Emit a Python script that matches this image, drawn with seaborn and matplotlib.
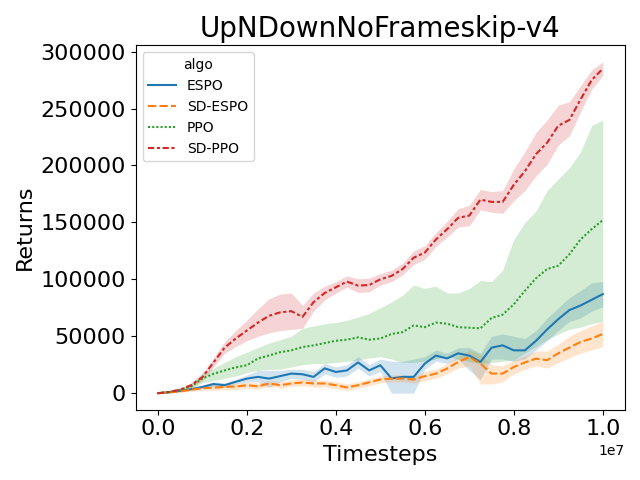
import numpy as np
import pandas as pd
import matplotlib
matplotlib.use('Agg')
import matplotlib.pyplot as plt
import seaborn as sns

# timesteps every 250k up to 10M
steps = np.linspace(0, 1e7, 41)
algos = ['ESPO', 'SD-ESPO', 'PPO', 'SD-PPO']

# mean returns
espo = [0, 800, 2000, 3500, 5500, 8000, 7000, 10000, 12800, 14300, 12800, 15000, 17200, 16600,
        14300, 21800, 18600, 20000, 27000, 20000, 24500, 13000, 14300, 14300, 26000, 33000, 30500,
        35000, 33000, 27400, 40000, 42000, 37600, 37600, 46000, 56000, 65000, 73000, 77000, 82000, 87000]
sd_espo = [0, 600, 1500, 3000, 4400, 4800, 5500, 5800, 7000, 6000, 8500, 7000, 8500, 9400,
           8500, 8500, 7000, 5000, 7000, 9500, 12000, 12800, 12800, 12000, 14900, 17200, 21600,
           27400, 31700, 26000, 17200, 17200, 23000, 27000, 30300, 29000, 35000, 40000, 45000, 48000, 52000]
ppo = [0, 1000, 3000, 6000, 12800, 17000, 20000, 22700, 24500, 30500, 33000, 36000, 37600, 40500,
       42000, 44000, 46000, 47000, 49000, 47000, 48000, 52000, 53600, 59500, 58000, 62000, 61000,
       58000, 57500, 57000, 66000, 69000, 78000, 90000, 101000, 109000, 112000, 122000, 135000, 144000, 152000]
sd_ppo = [0, 1000, 3000, 7000, 14000, 27000, 40000, 48000, 55000, 62000, 68000, 71000, 72000, 67000,
          80000, 88000, 93000, 98000, 94500, 95000, 100000, 103000, 109000, 119000, 123500, 135000, 144000,
          154000, 156000, 170000, 168000, 168000, 183000, 195000, 210000, 220000, 235000, 240000, 258000, 275000, 285000]

# confidence band edges
espo_lo = [0, 500, 1500, 2500, 4000, 6000, 5000, 8000, 10000, 10000, 5000, 10000, 13000, 12000,
           10000, 17000, 14000, 15000, 22000, 15000, 19000, 0, 0, 0, 21000, 28000, 26000,
           30000, 20000, 12000, 30000, 30000, 28000, 30000, 38000, 46000, 55000, 63000, 66000, 72000, 76000]
espo_hi = [0, 1200, 2500, 4500, 7000, 10000, 9000, 12000, 16000, 20000, 20000, 20000, 21000, 21000,
           19000, 26000, 23000, 25000, 32000, 25000, 30000, 28000, 28000, 30000, 32000, 38000, 35000,
           40000, 40000, 35000, 50000, 52000, 50000, 48000, 55000, 66000, 75000, 84000, 90000, 97000, 98000]
sd_espo_lo = [0, 300, 800, 1500, 2500, 2500, 3000, 3000, 4500, 3500, 6000, 4500, 6000, 6500,
              5500, 5500, 4000, 2500, 4500, 6500, 9000, 10000, 10000, 9000, 11000, 13000, 17000,
              22000, 24000, 8000, 8000, 10000, 17000, 21000, 24000, 22000, 27000, 31000, 35000, 38000, 41000]
sd_espo_hi = [0, 900, 2200, 4500, 6500, 7500, 8500, 8500, 10000, 9000, 11000, 10000, 11500, 12500,
              11500, 11500, 10000, 8000, 10000, 12500, 15000, 16000, 16000, 15000, 19000, 21000, 26000,
              32000, 38000, 34000, 25000, 24000, 29000, 33000, 37000, 37000, 43000, 50000, 55000, 59000, 63000]
ppo_lo = [0, 500, 2000, 4000, 9000, 11000, 13000, 15000, 18000, 20000, 21000, 21000, 23000, 25000,
          26000, 26000, 27000, 28000, 29000, 31000, 32000, 30000, 27000, 27000, 28000, 30000, 32000,
          30000, 28000, 26000, 27000, 28000, 29000, 35000, 41000, 47000, 52000, 56000, 58000, 61000, 63000]
ppo_hi = [0, 1500, 4000, 9000, 18000, 22000, 27000, 32000, 36000, 40000, 44000, 47000, 50000, 57000,
          59000, 61000, 62000, 64000, 67000, 70000, 75000, 80000, 86000, 95000, 92000, 94000, 88000,
          88000, 92000, 99000, 98000, 108000, 135000, 150000, 160000, 178000, 188000, 198000, 212000, 235000, 240000]
sd_ppo_lo = [0, 500, 2000, 5000, 11000, 23000, 35000, 41000, 46000, 50000, 53000, 55000, 56000, 57000,
             72000, 82000, 88000, 93000, 88500, 89000, 95000, 98000, 104000, 113000, 117500, 129000, 137000,
             146000, 147000, 161000, 159000, 158000, 169000, 178000, 191000, 201000, 218000, 226000, 247000, 267000, 279000]
sd_ppo_hi = [0, 1500, 4000, 9000, 17000, 31000, 45000, 55000, 64000, 74000, 83000, 87000, 88000, 77000,
             88000, 94000, 98000, 103000, 100500, 101000, 105000, 108000, 114000, 125000, 129500, 141000, 151000,
             162000, 165000, 179000, 177000, 178000, 197000, 212000, 229000, 240000, 253000, 256000, 270000, 284000, 291000]

means = [espo, sd_espo, ppo, sd_ppo]
lows = [espo_lo, sd_espo_lo, ppo_lo, sd_ppo_lo]
highs = [espo_hi, sd_espo_hi, ppo_hi, sd_ppo_hi]

df = pd.concat([pd.DataFrame({'Timesteps': steps, 'Returns': m, 'algo': a})
                for a, m in zip(algos, means)], ignore_index=True)

fig, ax = plt.subplots(figsize=(6.4, 4.8), dpi=100)
colors = sns.color_palette('tab10', 4)

for c, lo, hi in zip(colors, lows, highs):
    ax.fill_between(steps, lo, hi, color=c, alpha=0.2, linewidth=0)

sns.lineplot(data=df, x='Timesteps', y='Returns', hue='algo', style='algo',
             hue_order=algos, style_order=algos, palette=colors, ax=ax, errorbar=None)

ax.set_title('UpNDownNoFrameskip-v4', fontsize=20)
ax.set_xlabel('Timesteps', fontsize=16)
ax.set_ylabel('Returns', fontsize=16)
ax.tick_params(labelsize=16)
ax.xaxis.get_offset_text().set_fontsize(10)
ax.legend(title='algo', loc='upper left')

plt.tight_layout()
plt.savefig('out.png')
